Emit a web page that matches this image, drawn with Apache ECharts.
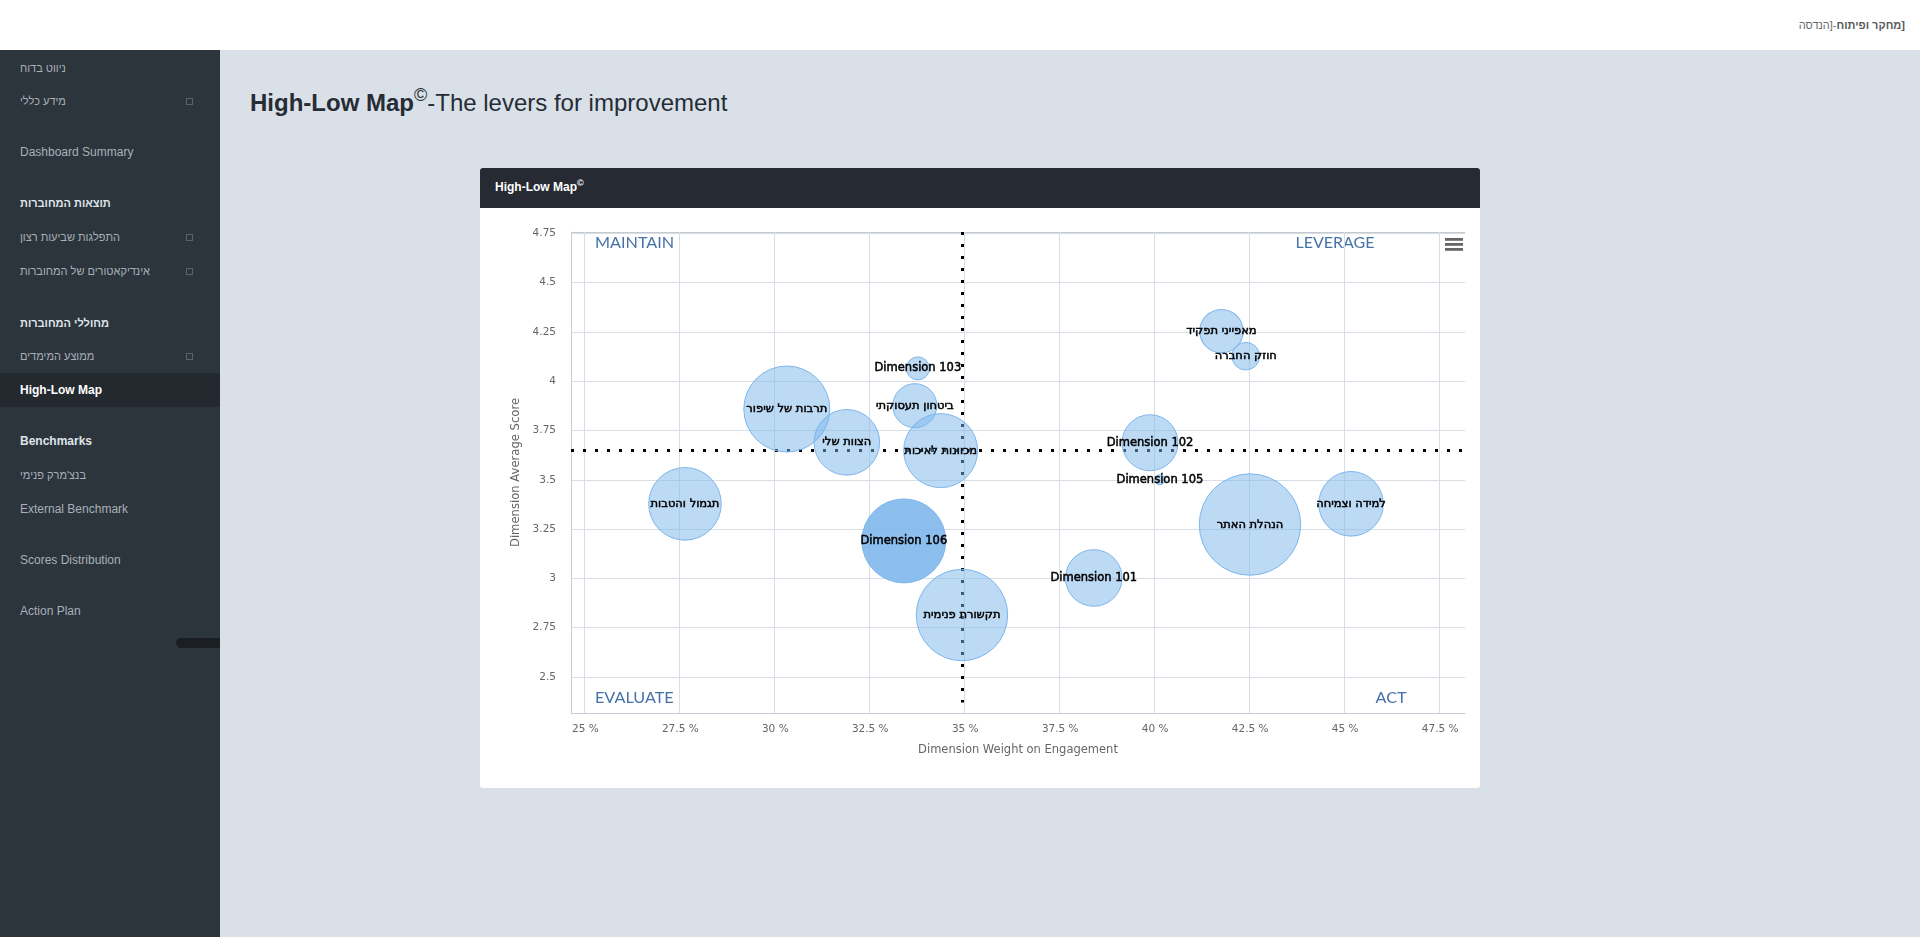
<!DOCTYPE html>
<html>
<head>
<meta charset="utf-8">
<title>High-Low Map</title>
<script src="https://cdn.jsdelivr.net/npm/echarts@6/dist/echarts.min.js"></script>
<style>
html, body { margin:0; padding:0; width:1920px; height:937px; overflow:hidden; background:#d9e0e7; font-family:"Liberation Sans", Arial, sans-serif; }
#topbar { position:absolute; left:0; top:0; width:1920px; height:50px; background:#fff; }
#dept { position:absolute; right:15px; top:18px; font-size:11px; line-height:14px; color:#676a6c; direction:rtl; unicode-bidi:embed; }
#dept b { color:#565b61; }
#sidebar { position:absolute; left:0; top:50px; width:220px; height:887px; background:#2c343c; }
#sidebar .row { position:absolute; left:20px; font-size:12px; line-height:14px; color:#a7b1b9; white-space:nowrap; }
#sidebar .he { font-size:11px; }
#sidebar .head { font-weight:bold; color:#dfe4ea; }
#sidebar .active { position:absolute; left:0; top:323px; width:220px; height:34px; background:#24282f; }
#sidebar .on { font-weight:bold; color:#fff; }
#sidebar .box { position:absolute; left:186px; width:5px; height:5px; border:1px solid #5a626b; }
#sidebar .thumb { position:absolute; left:176px; top:588px; width:44px; height:10px; background:#1b1e22; border-radius:5px 0 0 5px; }
h1 { position:absolute; left:250px; top:88px; margin:0; font-size:24px; line-height:30px; font-weight:normal; color:#262c35; white-space:nowrap; }
h1 sup { font-size:18px; line-height:0; position:relative; top:-1px; vertical-align:super; }
#card { position:absolute; left:480px; top:168px; width:1000px; height:620px; background:#fff; border-radius:3px; overflow:hidden; }
#cardhead { height:40px; background:#252a33; color:#fff; font-size:12px; font-weight:bold; line-height:38px; padding-left:15px; }
#cardhead sup { font-size:9px; line-height:0; }
#chart { width:1000px; height:580px; }
</style>
</head>
<body>
<div id="topbar"><div id="dept"><b>[מחקר ופיתוח</b>-[הנדסה</div></div>
<div id="sidebar">
	<div class="active"></div>
	<div class="row he" style="top:11px">ניווט בדוח</div>
	<div class="row he" style="top:44px">מידע כללי</div><div class="box" style="top:48px"></div>
	<div class="row" style="top:95px">Dashboard Summary</div>
	<div class="row he head" style="top:146px">תוצאות המחוברות</div>
	<div class="row he" style="top:180px">התפלגות שביעות רצון</div><div class="box" style="top:184px"></div>
	<div class="row he" style="top:214px">אינדיקאטורים של המחוברות</div><div class="box" style="top:218px"></div>
	<div class="row he head" style="top:266px">מחוללי המחוברות</div>
	<div class="row he" style="top:299px">ממוצע המימדים</div><div class="box" style="top:303px"></div>
	<div class="row on" style="top:333px">High-Low Map</div>
	<div class="row head" style="top:384px">Benchmarks</div>
	<div class="row he" style="top:418px">בנצ'מרק פנימי</div>
	<div class="row" style="top:452px">External Benchmark</div>
	<div class="row" style="top:503px">Scores Distribution</div>
	<div class="row" style="top:554px">Action Plan</div>
	<div class="thumb"></div>
</div>
<h1><b>High-Low Map</b><sup>©</sup>-The levers for improvement</h1>
<div id="card">
	<div id="cardhead">High-Low Map<sup>©</sup></div>
	<div id="chart"></div>
</div>

<script type="text/javascript">
// values
var dimensions = ['תרבות של שיפור', 'הצוות שלי', 'ביטחון תעסוקתי', 'Dimension 103', 'מכוונות לאיכות', 'מאפייני תפקיד', 'חוזק החברה', 'Dimension 102', 'Dimension 105', 'הנהלת האתר', 'למידה וצמיחה', 'Dimension 101', 'תגמול והטבות', 'Dimension 106', 'תקשורת פנימית'];
var weights = [30.33, 31.91, 33.70, 33.78, 34.38, 41.77, 42.41, 39.89, 40.15, 42.52, 45.18, 38.41, 27.65, 33.41, 34.94];
var scores = [3.859, 3.69, 3.876, 4.065, 3.648, 4.254, 4.127, 3.688, 3.50, 3.273, 3.378, 3.002, 3.378, 3.19, 2.814];
var bubbleSizes = [43, 32.8, 22, 11.5, 37, 21.7, 13.8, 28, 5, 50.7, 32.3, 28.3, 36.3, 42, 45.7];
var highlighted = 'Dimension 106';
var xTicks = [25, 27.5, 30, 32.5, 35, 37.5, 40, 42.5, 45, 47.5];
var yTicks = [2.5, 2.75, 3, 3.25, 3.5, 3.75, 4, 4.25, 4.5, 4.75];
var weightCut = 34.95;
var scoreCut = 3.648;
var quadrants = ['MAINTAIN', 'LEVERAGE', 'EVALUATE', 'ACT'];

var xMin = 24.65, xMax = 48.18;
var yMin = 2.317, yMax = 4.757;
var cutFloor = 2.37;

var points = dimensions.map(function (name, i) {
	var item = { name: name, value: [weights[i], scores[i], bubbleSizes[i]] };
	if (name === highlighted) {
		item.itemStyle = { color: 'rgba(124,181,236,0.88)' };
	}
	return item;
});

var myChart = echarts.init(document.getElementById('chart'));
myChart.setOption({
	animation: false,
	grid: { left: 91, right: 15, top: 24, bottom: 75 },
	xAxis: {
		type: 'value',
		min: xMin,
		max: xMax,
		name: 'Dimension Weight on Engagement',
		nameLocation: 'middle',
		nameGap: 31,
		nameTextStyle: { color: '#666', fontFamily: 'DejaVu Sans', fontSize: 11.5 },
		axisLine: { show: true, lineStyle: { color: '#c6ced8', width: 1 } },
		axisTick: { show: false, customValues: xTicks },
		axisLabel: {
			customValues: xTicks,
			color: '#666',
			fontFamily: 'DejaVu Sans',
			fontSize: 10.5,
			margin: 11,
			padding: [0, 0, 0, 2],
			formatter: function (v) { return v + ' %'; }
		},
		splitLine: { show: true, lineStyle: { color: '#d8dee6', width: 1 } }
	},
	yAxis: {
		type: 'value',
		min: yMin,
		max: yMax,
		name: 'Dimension Average Score',
		nameLocation: 'middle',
		nameGap: 48,
		nameTextStyle: { color: '#666', fontFamily: 'DejaVu Sans', fontSize: 11.6 },
		axisLine: { show: true, lineStyle: { color: '#c6ced8', width: 1 } },
		axisTick: { show: false, customValues: yTicks },
		axisLabel: {
			customValues: yTicks,
			color: '#666',
			fontFamily: 'DejaVu Sans',
			fontSize: 10.5,
			margin: 15,
			formatter: function (v) { return String(v); }
		},
		splitLine: { show: true, lineStyle: { color: '#d8dee6', width: 1 } }
	},
	graphic: {
		elements: [
			{ type: 'line', silent: true, shape: { x1: 91, y1: 24.5, x2: 985, y2: 24.5 }, style: { stroke: '#c6c9ce', lineWidth: 1 } },
			{ type: 'text', silent: true, x: 115, y: 35, style: { text: quadrants[0], font: '16.2px Lato', fill: '#4572a7', textVerticalAlign: 'middle' } },
			{ type: 'text', silent: true, x: 815.5, y: 35, style: { text: quadrants[1], font: '16px Lato', fill: '#4572a7', textVerticalAlign: 'middle' } },
			{ type: 'text', silent: true, x: 115, y: 490, style: { text: quadrants[2], font: '16.2px Lato', fill: '#4572a7', textVerticalAlign: 'middle' } },
			{ type: 'text', silent: true, x: 895.5, y: 490, style: { text: quadrants[3], font: '16.2px Lato', fill: '#4572a7', textVerticalAlign: 'middle' } },
			{ type: 'rect', silent: true, z: 10, shape: { x: 965, y: 30, width: 18, height: 2.8 }, style: { fill: '#666' } },
			{ type: 'rect', silent: true, z: 10, shape: { x: 965, y: 35, width: 18, height: 2.8 }, style: { fill: '#666' } },
			{ type: 'rect', silent: true, z: 10, shape: { x: 965, y: 40, width: 18, height: 2.8 }, style: { fill: '#666' } }
		]
	},
	series: [
		{
			type: 'line',
			data: [],
			z: 1,
			markLine: {
				silent: true,
				z: 1,
				animation: false,
				symbol: ['none', 'none'],
				label: { show: false },
				lineStyle: { color: '#000', type: [3, 9], width: 3, cap: 'butt', opacity: 1 },
				data: [
					[{ coord: [weightCut, yMax] }, { coord: [weightCut, cutFloor] }],
					[{ coord: [xMin, scoreCut] }, { coord: [xMax, scoreCut] }]
				]
			}
		},
		{
			type: 'scatter',
			z: 2,
			data: points,
			symbolSize: function (val) { return val[2] * 2; },
			itemStyle: { color: 'rgba(124,181,236,0.5)', borderColor: '#7cb5ec', borderWidth: 1, opacity: 1 },
			label: {
				show: true,
				position: 'inside',
				formatter: '{b}',
				color: '#000',
				fontFamily: 'DejaVu Sans',
				fontSize: 11.5,
				textBorderColor: '#000',
				textBorderWidth: 0.5
			},
			emphasis: { disabled: true }
		}
	]
});
</script>
</body>
</html>
